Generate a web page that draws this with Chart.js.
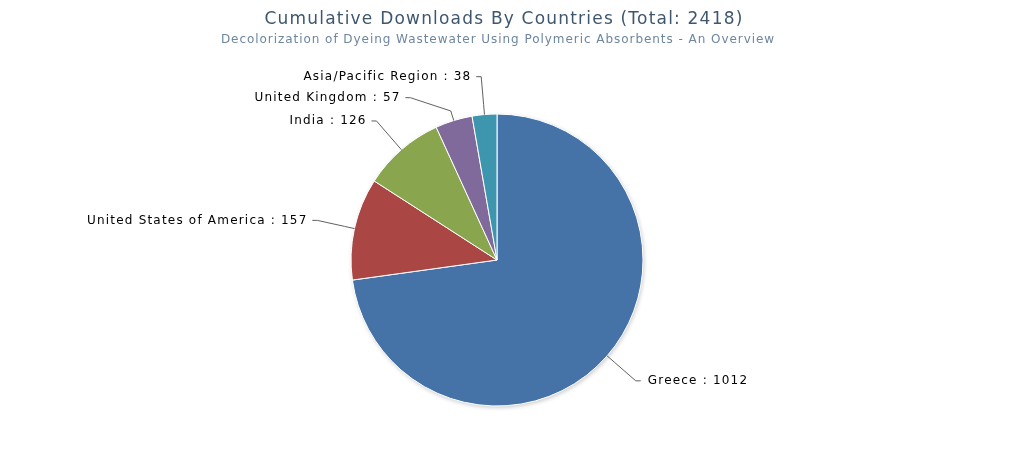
<!DOCTYPE html>
<html><head><meta charset="utf-8">
<script src="https://cdn.jsdelivr.net/npm/chart.js@4.4.0/dist/chart.umd.min.js"></script>
<style>html,body{margin:0;padding:0;background:#fff;} #wrap{width:1024px;height:469px;position:relative;}</style>
</head><body><div id="wrap"><canvas id="c"></canvas></div>
<script>
const categories = ['Greece', 'United States of America', 'India', 'United Kingdom', 'Asia/Pacific Region'];
const downloads = [1012, 157, 126, 57, 38];
const sliceColors = ['#4572A7', '#AA4643', '#89A54E', '#80699B', '#3D96AE'];
const totalDownloads = 2418;
const titleText = 'Cumulative Downloads By Countries (Total: ' + totalDownloads + ')';
const subtitleText = 'Decolorization of Dyeing Wastewater Using Polymeric Absorbents - An Overview';

const LABEL_FONT = '12px "DejaVu Sans"';
const LETTER_SP = 1.2;

function setSpacing(ctx, v) { try { ctx.letterSpacing = v + 'px'; } catch (e) {} }

const titlePlugin = {
  id: 'titles',
  afterDraw(chart) {
    const ctx = chart.ctx;
    ctx.save();
    ctx.textAlign = 'center';
    ctx.textBaseline = 'middle';
    ctx.font = '17px "DejaVu Sans"';
    ctx.fillStyle = '#3E576F';
    setSpacing(ctx, 1.2);
    ctx.fillText(titleText, 504, 20);
    ctx.font = '12px "DejaVu Sans"';
    ctx.fillStyle = '#6D869F';
    setSpacing(ctx, 0.95);
    ctx.fillText(subtitleText, 498, 40);
    ctx.restore();
  }
};

const shadowPlugin = {
  id: 'pieShadow',
  beforeDatasetsDraw(chart) {
    const arc = chart.getDatasetMeta(0).data[0];
    if (!arc) return;
    const p = arc.getProps(['x', 'y', 'outerRadius'], true);
    const ctx = chart.ctx;
    ctx.save();
    ctx.shadowColor = 'rgba(0,0,0,0.22)';
    ctx.shadowBlur = 4;
    ctx.shadowOffsetX = 1;
    ctx.shadowOffsetY = 1.5;
    ctx.fillStyle = '#ffffff';
    ctx.beginPath();
    ctx.arc(p.x, p.y, p.outerRadius, 0, Math.PI * 2);
    ctx.fill();
    ctx.restore();
  }
};

const labelPlugin = {
  id: 'pieLabels',
  afterDatasetsDraw(chart) {
    const meta = chart.getDatasetMeta(0);
    const ctx = chart.ctx;
    const items = meta.data.map((arc, i) => {
      const p = arc.getProps(['x', 'y', 'startAngle', 'endAngle', 'outerRadius'], true);
      const mid = (p.startAngle + p.endAngle) / 2;
      return { i, p, cos: Math.cos(mid), sin: Math.sin(mid) };
    });
    if (!items.length) return;
    const cx = items[0].p.x, cy = items[0].p.y, r = items[0].p.outerRadius;
    const R = r + 38;
    const gap = 21;
    items.forEach(it => { it.left = it.cos < 0; it.ly = cy + R * it.sin; });
    [true, false].forEach(side => {
      const g = items.filter(it => it.left === side).sort((a, b) => a.ly - b.ly);
      for (let k = 1; k < g.length; k++) {
        if (g[k].ly < g[k - 1].ly + gap) g[k].ly = g[k - 1].ly + gap;
      }
    });
    ctx.save();
    ctx.font = LABEL_FONT;
    setSpacing(ctx, LETTER_SP);
    items.forEach(it => {
      const dy = it.ly - cy;
      const dx = Math.sqrt(Math.max(0, R * R - dy * dy));
      const bx = cx + (it.left ? -dx : dx);
      ctx.strokeStyle = '#606060';
      ctx.lineWidth = 1;
      ctx.beginPath();
      ctx.moveTo(bx + (it.left ? -5 : 5), it.ly);
      ctx.lineTo(bx, it.ly);
      ctx.lineTo(cx + (r + 10) * it.cos, cy + (r + 10) * it.sin);
      ctx.lineTo(cx + r * it.cos, cy + r * it.sin);
      ctx.stroke();
      const txt = categories[it.i] + ' : ' + downloads[it.i];
      ctx.fillStyle = '#000000';
      ctx.textBaseline = 'middle';
      if (it.left) {
        ctx.textAlign = 'right';
        ctx.fillText(txt, bx - 11 + LETTER_SP, it.ly);
      } else {
        ctx.textAlign = 'left';
        ctx.fillText(txt, bx + 12, it.ly);
      }
    });
    ctx.restore();
  }
};

new Chart(document.getElementById('c'), {
  type: 'pie',
  data: {
    labels: categories,
    datasets: [{
      data: downloads,
      backgroundColor: sliceColors,
      borderColor: '#ffffff',
      borderWidth: 1,
      hoverOffset: 0
    }]
  },
  options: {
    responsive: true,
    maintainAspectRatio: false,
    animation: false,
    events: [],
    radius: 146,
    layout: { padding: { left: 0, right: 30, top: 113, bottom: 62 } },
    plugins: {
      legend: { display: false },
      tooltip: { enabled: false },
      title: { display: false },
      subtitle: { display: false }
    }
  },
  plugins: [shadowPlugin, labelPlugin, titlePlugin]
});
</script>
</body></html>
